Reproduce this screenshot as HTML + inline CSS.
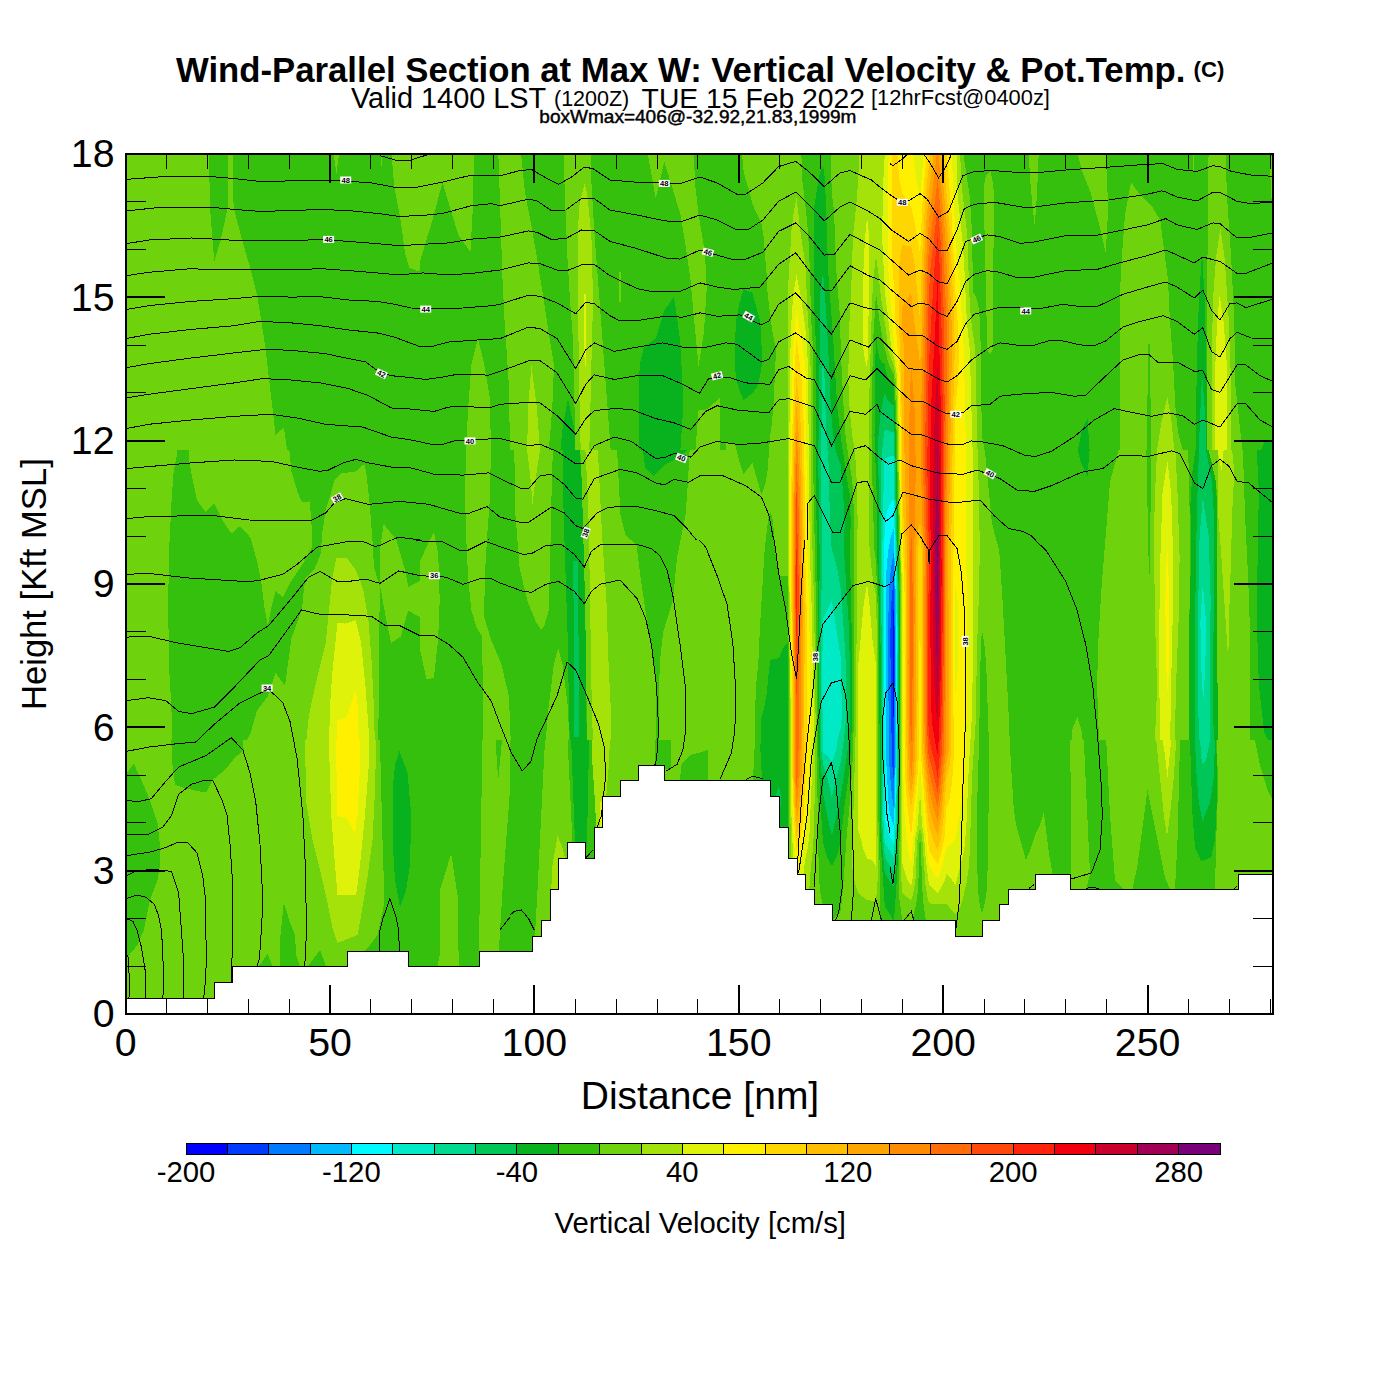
<!DOCTYPE html>
<html><head><meta charset="utf-8"><title>Wind-Parallel Section</title>
<style>
html,body{margin:0;padding:0;background:#fff;}
body{width:1400px;height:1400px;position:relative;overflow:hidden;font-family:"Liberation Sans",sans-serif;color:#000;}
.t{position:absolute;white-space:nowrap;line-height:1;margin:0;padding:0;}
.t span{display:inline-block}
</style></head><body>
<svg width="1400" height="1400" viewBox="0 0 1400 1400" style="position:absolute;left:0;top:0" shape-rendering="crispEdges">
<defs>
<clipPath id="plot"><rect x="126" y="154" width="1147" height="860"/></clipPath>
<clipPath id="c0"><rect x="120" y="150" width="300" height="300"/></clipPath>
<clipPath id="c1"><rect x="420" y="150" width="310" height="300"/></clipPath>
<clipPath id="c2"><rect x="120" y="450" width="300" height="300"/></clipPath>
<clipPath id="c3"><rect x="420" y="450" width="310" height="300"/></clipPath>
<clipPath id="c4"><rect x="120" y="740" width="350" height="290"/></clipPath>
<clipPath id="c5"><rect x="440" y="740" width="350" height="290"/></clipPath>
<clipPath id="c6"><rect x="1020" y="150" width="300" height="300"/></clipPath>
<clipPath id="c7"><rect x="1020" y="450" width="300" height="300"/></clipPath>
<clipPath id="c8"><rect x="940" y="740" width="350" height="290"/></clipPath>
</defs>
<g clip-path="url(#plot)">
<rect x="126" y="154" width="1147" height="860" fill="#6ed30c"/>
<g clip-path="url(#c0)">
<rect x="120" y="150" width="300" height="300" fill="#6ed30c"/>
<polygon fill="#36c00e" points="208.9,150 210,207.9 214.3,261.4 220.7,240 228.2,205.7 228.2,150"/>
<polygon fill="#36c00e" points="232.5,150 233.6,207.9 242.1,240 249.6,265.7 257.1,295.7 261.4,321.4 265.7,349.3 268.9,378.2 273.2,413.6 275.4,435 283.9,427.5 287.1,450 420,450 420,150"/>
<polygon fill="#6ed30c" points="333.2,150 339.6,150 336.4,173.6"/>
<polygon fill="#6ed30c" points="380.4,150 383.1,150 381.4,167.1"/>
<polygon fill="#6ed30c" points="391.1,150 394.3,186.4 400.7,220.7 405,252.9 409.3,267.9 417.9,271.1 420,270 420,150"/>
</g>
<g clip-path="url(#c1)">
<rect x="420" y="150" width="310" height="300" fill="#36c00e"/>
<polygon fill="#6ed30c" points="420,150 473.6,150 473.6,171.4 472.5,214.3 470.4,251.8 458.6,235.7 452.1,214.3 442.5,182.1 432.9,218.6 420,261.4"/>
<polygon fill="#6ed30c" points="498.2,150 520.7,150 525,192.9 531.4,225 536.8,257.1 542.1,289.3 548.6,332.1 553.9,364.3 552.9,396.4 550.7,428.6 548.6,450 510,450 508.9,385.7 506.8,353.6 504.6,321.4 502.5,278.6 500.4,214.3"/>
<polygon fill="#6ed30c" points="477.9,338.6 484.3,364.3 489.6,396.4 491.1,450 466.1,450 468.2,407.1 471.4,364.3"/>
<polygon fill="#6ed30c" points="563.6,150 590.4,150 591.4,182.1 594.6,235.7 597.9,278.6 601.1,321.4 604.3,364.3 607.5,407.1 610.7,450 575.4,450 573.2,342.9 570,300 567.4,257.1 565.7,214.3 564,171.4"/>
<polygon fill="#6ed30c" points="647.1,150 655.7,198.2 664.3,161.8 673.9,192.9 680.4,214.3 685.7,246.4 690.4,278.6 694.3,321.4 698.6,366.4 703.9,332.1 706.7,289.3 705,252.9 698.6,214.3 694.9,182.1 693.9,150"/>
<polygon fill="#6ed30c" points="695.4,450 698.6,410.4 707.1,409.3 720,397.5 720,450"/>
<polygon fill="#6ed30c" points="618.9,272.1 620.8,272.1 620.8,302.1 619.3,302.1"/>
<polygon fill="#a5e20a" points="584.6,183.2 587.1,192.9 591.4,235.7 592.5,278.6 592.5,321.4 591.4,364.3 590.4,407.1 589.3,450 580.7,450 579.6,407.1 579,364.3 578.1,321.4 577.5,278.6 577.5,235.7 579.6,203.6"/>
<polygon fill="#def20a" points="583.9,293.6 586.1,293.6 586.1,366.4 584.6,366.4"/>
<polygon fill="#a5e20a" points="531.4,365.4 536.8,407.1 540,450 527.1,450 528.2,407.1"/>
<polygon fill="#08b21e" points="673.9,296.8 676.1,310.7 680.4,342.9 682.5,385.7 682.5,417.9 680.4,450 638.6,450 639.6,364.3 643.9,347.1 655.7,338.6 664.3,310.7"/>
<polygon fill="#08b21e" points="567.9,398.6 574.3,428.6 575.4,450 560.4,450 562.5,428.6"/>
</g>
<g clip-path="url(#c2)">
<rect x="120" y="450" width="300" height="300" fill="#36c00e"/>
<polygon fill="#6ed30c" points="120,450 176.8,450 176.8,456 173.6,471.4 171.4,503.6 169.3,546.4 168.2,600 168.9,664.3 171.4,707.1 172.5,750 120,750"/>
<polygon fill="#6ed30c" points="188.6,450 289.3,450 291.4,471.4 297.9,492.9 302.1,502.5 309.6,501.4 311.4,520.7 312.2,546.4 304.3,561.4 291.4,580.7 282.9,596.8 275.4,591.4 271.1,608.6 267.9,625.7 264.6,608.6 261.4,582.9 257.1,561.4 250.7,537.9 240,526.1 231.4,533.6 222.9,520.7 214.3,503.6 205.7,512.1 197.1,500.4 191.8,475.7 188.6,456"/>
<polygon fill="#6ed30c" points="364.3,463.9 355.7,471.4 340.7,473.6 334.3,480 331.1,492.9 325.7,510 322.5,531.4 320.4,555 313.9,570 305.4,578.6 303.2,595.7 302.1,608.6 291.4,638.6 285,685.7 275.4,672.9 267.9,696.4 257.1,710.4 250.7,732.9 242.1,750 378.2,750 379.3,642.9 379.7,587.1 373.9,566.8 372.9,546.4 369.6,503.6 366.4,473.6"/>
<polygon fill="#6ed30c" points="383.6,523.9 396.4,540 405,570 408.2,587.1 420,580.7 420,617.1 408.2,610.7 400.7,636.4 391.1,642.9 385.7,617.1 380.4,587.1 380.4,546.4"/>
<polygon fill="#a5e20a" points="336.4,558.2 347.1,558.2 355.7,570 363.2,589.3 368.6,621.4 371.8,664.3 373.9,707.1 375,750 305.4,750 308.6,717.9 312.9,696.4 319.3,668.6 325.7,642.9 328.9,610.7 332.1,578.6"/>
<polygon fill="#def20a" points="337.5,622.5 345,623.6 355.7,620.4 361.1,642.9 365.4,685.7 368.6,728.6 368.6,750 328.9,750 330,707.1 332.1,675 335.4,642.9"/>
<polygon fill="#fff000" points="355.7,690 357.9,707.1 358.9,750 336.4,750 337.5,720 346.1,717.9"/>
</g>
<g clip-path="url(#c3)">
<rect x="420" y="450" width="310" height="300" fill="#36c00e"/>
<polygon fill="#6ed30c" points="420,561.4 428.6,542.1 433.9,532.5 438.2,552.9 439.7,600 438.2,638.6 433.9,678.2 426.4,678.9 420,649.3"/>
<polygon fill="#6ed30c" points="466.1,450 490.7,450 490.3,492.9 486.9,540 484.7,578.6 484.3,617.1 490.7,638.6 501.4,664.3 508.9,696.4 511.1,750 482.8,750 482.8,685.7 482.1,636.4 476.8,627.9 471.4,610.7 468.2,578.6 466.1,535.7 465,492.9"/>
<polygon fill="#6ed30c" points="558.2,648.2 562.5,664.3 567.9,707.1 569.6,750 544.9,750 548.6,707.1 553.9,664.3"/>
<polygon fill="#6ed30c" points="514.3,450 552.9,450 551.8,482.1 550.7,535.7 549.6,578.6 548.6,610.7 544.3,625.7 541.1,630 535.7,621.4 527.1,600 519.6,567.9 515.4,514.3"/>
<polygon fill="#a5e20a" points="527.1,450 540,450 535.7,477.9 532.5,503.6 530.4,477.9"/>
<polygon fill="#08b21e" points="562.5,450 579.6,450 581.8,482.1 583.3,535.7 585,600 586.1,664.3 586.7,750 570,750 568.9,707.1 567.9,642.9 565.7,578.6 563.6,514.3"/>
<polygon fill="#00c658" points="573.2,561.4 577.5,561.4 578.6,642.9 578.6,737.1 574.3,737.1 573.9,642.9"/>
<polygon fill="#6ed30c" points="580.3,450 730.7,450 730.7,750 587.1,750 586.1,664.3 585,600 583.3,535.7 581.8,482.1"/>
<polygon fill="#36c00e" points="617.1,450 618.2,471.4 620.4,514.3 625.7,535.7 636.4,544.3 640.7,578.6 647.1,621.4 652.5,653.6 655.7,675 655.7,750 658.9,750 659.6,664.3 663.2,632.1 672.9,600 677.1,557.1 685.7,514.3 687.9,482.1 689.6,450"/>
<polygon fill="#08b21e" points="642.9,450 645,467.1 653.6,475.7 664.3,465 677.1,458.6 687.9,450"/>
<polygon fill="#a5e20a" points="585.4,450 597.9,450 600,492.9 602.1,535.7 606.4,600 608.6,664.3 610.7,707.1 610.7,750 593.1,750 591.4,685.7 590.4,621.4 589.3,557.1 588.2,503.6"/>
</g>
<g clip-path="url(#c4)">
<rect x="120" y="740" width="350" height="290" fill="#6ed30c"/>
<polygon fill="#36c00e" points="127,772.5 133.8,763.8 142.5,782.5 150,800 157.5,822.5 160,845 160,865 157.5,880 150,900 143.8,930 137.5,945 131.2,952.5 127,957.5"/>
<polygon fill="#36c00e" points="171.2,740 172.5,765 175,785 182.5,787.5 197.5,791.2 206.2,792.5 212.5,780 225,770 235,757.5 243.8,750 242.5,740"/>
<polygon fill="#36c00e" points="283.8,902.5 290,922.5 295,935 296.2,955 300,966.5 280,966.5 280,940"/>
<polygon fill="#36c00e" points="267.5,953.8 272.5,966.5 258.8,966.5"/>
<polygon fill="#36c00e" points="320,950 326.2,966.5 307.5,966.5"/>
<polygon fill="#36c00e" points="380,740 381.2,790 382.5,840 384.5,902.5 377.5,935 370,945 363.8,951.5 408.2,951.5 408.2,966.5 470,966.5 470,740"/>
<polygon fill="#6ed30c" points="452,853.8 456.2,890 458.8,940 460,966.5 437.5,966.5 442.5,940 447.5,890"/>
<polygon fill="#08b21e" points="399.5,751.2 407.5,772.5 411.2,815 410,865 406.2,890 400,907.5 395,880 392.5,840 392.5,790 395,765"/>
<polygon fill="#a5e20a" points="305,740 306.2,802.5 312.5,840 320,870 327.5,902.5 332.5,927.5 337.5,942.5 345,940 357.5,935 361.2,915 367.5,877.5 372.5,840 375,790 376.2,740"/>
<polygon fill="#def20a" points="328.8,740 331.2,815 335,865 337.5,895 356.2,895 360,865 365,815 368.8,765 368.8,740"/>
<polygon fill="#fff000" points="336.2,740 337,816.2 346.2,817.5 355,833.8 357.5,815 360,765 360.5,740"/>
</g>
<g clip-path="url(#c5)">
<rect x="440" y="740" width="350" height="290" fill="#36c00e"/>
<polygon fill="#6ed30c" points="440,966.5 440,890 451.2,853.8 457.5,895 458.8,966.5"/>
<polygon fill="#6ed30c" points="482.5,740 495.5,740 498.2,780 502,740 510.5,740 510,790 506.2,840 502.5,890 498.8,951.5 478.8,951.5 480,890 481.2,815"/>
<polygon fill="#6ed30c" points="545,740 567.5,740 568.8,765 571.2,815 572.5,842.5 567.5,842.5 567.5,858.2 558.5,858.2 558.5,889.5 549.5,889.5 549.5,920.5 540.5,920.5 540.5,935.5 535,935.5 537.5,890 541.2,815"/>
<polygon fill="#a5e20a" points="557.5,836.2 562.5,847.5 565,858.2 558.5,858.2 558.5,889.5 551.2,889.5 552.5,865"/>
<polygon fill="#08b21e" points="571.2,740 589.2,740 588,790 587,845 584.5,858.2 584.5,842.5 575,842.5 573,790"/>
<polygon fill="#a5e20a" points="591.5,740 610,740 608.8,765 606.2,796.8 602.5,796.8 602.5,827.5 596.2,827.5 595,802.5 592.5,765"/>
<polygon fill="#def20a" points="600,802.5 602.5,800 602.5,827.5 600.5,827.5"/>
<polygon fill="#6ed30c" points="610,740 655,740 655,765.5 637.5,765.5 637.5,780.5 620,780.5 620,796.8 606.2,796.8 608.8,765"/>
<polygon fill="#6ed30c" points="671.2,740 762.5,740 762.5,780.5 664.2,780.5 664.2,768.8 671.2,768.8"/>
<polygon fill="#36c00e" points="680,780.5 681.2,765 690,755 700,752.5 708,750 708,780.5"/>
</g>
<g clip-path="url(#c6)">
<rect x="1020" y="150" width="300" height="300" fill="#36c00e"/>
<polygon fill="#6ed30c" points="1076.8,150 1106.8,150 1107.9,214.3 1105.7,252.9 1099.3,225 1090.7,192.9 1082.1,171.4"/>
<polygon fill="#6ed30c" points="1131,182.1 1140,195 1152.9,207.9 1160.4,220.7 1163.6,246.4 1167.9,278.6 1170,321.4 1173.2,364.3 1175.4,407.1 1178.1,432.9 1182.9,450 1119.6,450 1119.6,300 1121.8,257.1 1125,214.3"/>
<polygon fill="#36c00e" points="1148.1,343.9 1149.9,343.9 1151.1,450 1146.9,450"/>
<polygon fill="#a5e20a" points="1167.4,397.5 1171.1,417.9 1174.3,450 1157.1,450 1161.4,422.1"/>
<polygon fill="#6ed30c" points="1192.5,150 1194.6,150 1194,182.1"/>
<polygon fill="#6ed30c" points="1208.6,150 1225.7,150 1226.8,192.9 1231.1,257.1 1234.3,321.4 1235.4,385.7 1242.4,450 1206.4,450 1206.9,364.3 1207.5,257.1 1208.1,192.9"/>
<polygon fill="#a5e20a" points="1220.4,228.2 1224.6,257.1 1228.9,321.4 1231.1,385.7 1231.1,450 1211.8,450 1211.8,364.3 1212.9,300 1216.1,257.1"/>
<polygon fill="#def20a" points="1219.7,295.7 1223.6,321.4 1226.8,364.3 1226.8,450 1215,450 1215.4,364.3 1217.1,321.4"/>
<polygon fill="#08b21e" points="1202.1,252.9 1204.7,300 1206.4,364.3 1207.5,450 1195.7,450 1196.8,364.3 1198.9,300"/>
<polygon fill="#00c658" points="1202.1,375 1205.4,417.9 1206.4,450 1198.9,450 1200,417.9"/>
<polygon fill="#08b21e" points="1087.5,418.9 1089.6,450 1077.9,450 1082.1,428.6"/>
<polygon fill="#6ed30c" points="1269.6,156.4 1273.9,156.4 1273.9,225 1271.1,192.9"/>
<polygon fill="#08b21e" points="1261.1,450 1273.9,450 1273.9,440.4 1264.3,442.5"/>
</g>
<g clip-path="url(#c7)">
<rect x="1020" y="450" width="300" height="300" fill="#36c00e"/>
<polygon fill="#08b21e" points="1077.9,450 1089.6,450 1087.5,475.7 1081.1,462.9"/>
<polygon fill="#6ed30c" points="1118.6,450 1188.2,450 1189.3,492.9 1190.4,557.1 1189.3,621.4 1189.3,750 1099.3,750 1097.1,685.7 1098.2,642.9 1101.4,589.3 1105.7,535.7 1110,482.1"/>
<polygon fill="#36c00e" points="1146.4,450 1151.1,450 1150.3,535.7 1149.2,589.3 1148.1,535.7"/>
<polygon fill="#a5e20a" points="1157.1,450 1175.4,450 1177.5,492.9 1179.6,557.1 1178.6,621.4 1176,685.7 1174.7,750 1154.6,750 1157.1,685.7 1155,621.4 1153.9,535.7 1155,492.9"/>
<polygon fill="#def20a" points="1167.4,460.7 1171.1,492.9 1173.2,557.1 1172.6,621.4 1171.1,685.7 1170,750 1160.4,750 1159.3,685.7 1159.3,621.4 1160.4,557.1 1162.5,492.9"/>
<polygon fill="#fff000" points="1167.2,542.1 1169.4,600 1168.9,664.3 1167.9,696.4 1166.1,664.3 1165.3,600"/>
<polygon fill="#6ed30c" points="1207.5,450 1219.3,450 1218.2,514.3 1216.1,482.1"/>
<polygon fill="#08b21e" points="1195.3,450 1208.6,450 1216.1,482.1 1217.1,514.3 1216.7,578.6 1217.1,642.9 1218.2,750 1189.3,750 1189.3,621.4 1191,557.1 1190.4,503.6 1192.5,471.4"/>
<polygon fill="#00c658" points="1198.9,450 1206,450 1211.8,482.1 1213.9,514.3 1213.9,600 1212.9,685.7 1213.9,750 1194.6,750 1194.6,664.3 1195.7,578.6 1196.8,514.3 1197.9,482.1"/>
<polygon fill="#00da91" points="1202.8,497.1 1208.6,535.7 1210.7,600 1209.6,664.3 1209.6,750 1198.9,750 1197.9,664.3 1198.3,600 1199.6,535.7"/>
<polygon fill="#00eac8" points="1202.8,583.9 1206,621.4 1205.4,664.3 1203.2,702.9 1201.1,664.3 1200.4,621.4"/>
<polygon fill="#6ed30c" points="1218.2,450 1242.9,450 1245,514.3 1248.2,578.6 1250.4,642.9 1250.4,750 1218.2,750 1217.1,642.9 1217.1,514.3"/>
<polygon fill="#a5e20a" points="1218.2,450 1232.1,450 1234.3,471.4 1232.1,514.3 1231.1,557.1 1228.9,621.4 1228.3,662.1 1225.7,621.4 1221.4,557.1 1218.2,514.3"/>
<polygon fill="#def20a" points="1217.6,450 1223.6,450 1221.4,471.4"/>
<polygon fill="#08b21e" points="1256.8,450 1273.9,450 1273.9,750 1264.3,732.9 1258.9,685.7 1256.8,621.4 1257.9,535.7 1258.9,492.9"/>
<polygon fill="#6ed30c" points="1077.4,716.8 1082.1,732.9 1083.2,750 1071,750 1072.5,728.6"/>
</g>
<g clip-path="url(#c8)">
<rect x="940" y="740" width="350" height="290" fill="#6ed30c"/>
<polygon fill="#36c00e" points="1043.8,740 1070,740 1071.2,815 1070.5,873.8 1052.5,873.8 1048.8,852.5 1043.8,812.5 1035,840 1025,860 1015,815 1011.2,740"/>
<polygon fill="#36c00e" points="1083.8,740 1090,873.8 1086.2,889.2 1123.8,889.2 1115,880 1110,815 1106.2,740"/>
<polygon fill="#36c00e" points="1147.5,790 1157.5,840 1165,877.5 1170,889.2 1132.5,889.2 1137.5,865 1142.5,827.5"/>
<polygon fill="#a5e20a" points="1156.2,740 1176.2,740 1173.8,777.5 1170,815 1167,836.2 1163.8,815 1160,777.5"/>
<polygon fill="#def20a" points="1162.5,740 1171.2,740 1167.5,777.5 1165,755"/>
<polygon fill="#36c00e" points="1180,740 1178.8,790 1177.5,840 1175,889.2 1215,889.2 1216.2,840 1218,790 1217,740"/>
<polygon fill="#36c00e" points="1255,740 1273.8,740 1273.8,802.5 1267.5,790 1260,765"/>
<polygon fill="#08b21e" points="1190,740 1216.2,740 1217.5,790 1215,840 1211.2,857.5 1201.2,861.2 1195,847.5 1192.5,815 1191.2,777.5"/>
<polygon fill="#00c658" points="1195,740 1215,740 1213.8,777.5 1210,802.5 1202.5,821.2 1198.8,802.5 1196.2,770"/>
<polygon fill="#00da91" points="1200,740 1210,740 1206.2,760 1202,765"/>
</g>
<clipPath id="s0"><rect x="726" y="154" width="318" height="860"/></clipPath>
<g clip-path="url(#s0)">
<rect x="726" y="154" width="318" height="860" fill="#6ed30c"/>
<path fill="#a5e20a" d="M960.2,154 961.3,182 967.4,236 969.2,292 970.6,314 972.1,328 975.4,350 977.1,436 978.9,492 979.8,550 979,592 977,648 975.7,722 972,778 969.8,852 968.6,868 966.7,882 963,898 960.5,906 958.6,910 955.4,914.2 946.5,904.2 937.7,904.5 928.9,903.1 927.3,896 925.4,884 922.1,836 920.1,828.1 917.8,836 916.8,850 915.6,878 914.3,888 912.6,896 911.2,900 905.3,896 902.4,892.8 901.5,882 900.8,864 901.2,592 897.1,408 895.8,380 895.1,374 893.6,365 890.7,358 888.3,350 886.2,332 880.8,296 878.3,272 876,256.3 873.8,274 872.2,298 868.9,408 868.6,520 869.6,550 872.2,574 876,596.4 876.7,628 877.1,664 877.3,822 878,868 877.4,884 876,901.4 867.1,900 861.7,896 858.3,892.8 856.3,888 854.6,882 853.1,874 852,864 855.8,726 857.6,520 857.1,492 856.1,468 854.7,450 852.3,436 849.5,407.1 848.2,378 849.5,321.4 851.1,292 853,236 856.2,206 858.2,180 859.3,154ZM796.5,197.9 800.7,234 805.4,264.4 807.9,320 810.2,350 810.8,380 810.9,466 812.5,550 814.2,608 815.6,720 814.9,790 813.6,836 812.6,852 810.3,874 805.4,950 805.4,1012 805.4,1014 791.5,1014 791,860 789.9,780 789.6,664 788,550 787.7,294 791.5,230 793.7,212Z"/>
<path fill="#def20a" d="M884.8,154 956.5,154 957,178 958.1,200 962.6,242 964.2,264.3 966.9,322 969.8,350 973,464 973.5,606 973,664 971.5,722 968.7,770 966.5,822 965.1,842 964.2,850 955.4,885.6 952,880 946.5,874.2 944.8,880 942.3,886 937.7,892.8 932.4,888 928.9,883.9 925.7,858 924,836 922.1,826 920.1,793 917.4,828 915.6,836 912.7,878 911.2,885.7 908.6,882 906.7,878 902.4,864.1 902,808 902,592 900.2,520 898.3,408 897.2,380 896.4,372 894.1,358 891.5,350 887.5,312 884.8,292 882.1,236 883.2,182ZM867.1,217.1 869.1,236 869.4,256 868,350 867.1,368.8 865,360 863.5,350 862.7,320 863.6,264 865.2,236ZM796.5,275.4 800.8,296 805.4,328.6 807.2,350 807.9,366 808.3,380 808.7,464 809.9,550 811.6,606 814.2,722 809.4,836 807.7,848 805.1,860 803.4,874 801,950 801,1014 794,1014 794,950 793.3,860 791.7,826 790.8,780 790.4,666 789,550 789.3,438 790.5,348 791.4,322 792.7,302 794.3,288ZM867.1,582.9 869.8,608 872.5,640 875.9,664 876.1,850 876,866 876,866.4 875.6,866 873.7,862 871.2,860 867.1,858.5 863.5,850 861.2,840 858.3,830 857.7,814 857.6,750 858.3,664.5 863.5,606Z"/>
<path fill="#fff000" d="M888.6,154 913.8,154 916,178 920.1,199 923.6,154 951.7,154 955.4,235.7 959.9,284 963.9,350 966.2,464 966.2,550 966.9,608 966.6,722 964.2,792.6 961.8,802 955.4,838.4 953.4,842 951.7,844 946.5,847.6 941.9,868 939.9,874 937.7,878.6 932.9,872 928.9,864.4 926.9,850 926.1,838 923.9,820 920.1,766.1 914.7,828 913.4,836 911.2,864.3 909.1,856 907.1,844 904.6,816 903.4,778 903.1,592 901,520 899.2,402 898.2,374 896.7,360 894.6,350 889.6,292 888.2,266 887.7,236ZM955.4,586.4 954.9,608 954.9,664 955.4,692.9 958.1,664 958.3,608 957.1,596ZM796.5,950 795.5,860 793,826 791.7,780 791.5,692 789.9,550 790.4,466 791.7,392 793.7,340 795.8,316 796.5,310 796.9,312 803.3,350 805.4,369 805.8,378 807.3,550 809.2,608 810.7,722 809.2,768 805.5,834 803.6,844 799.7,858 799,866Z"/>
<path fill="#ffd700" d="M892.5,154 897.4,154 899.1,178 900.6,186 902.4,192.9 911.2,206.9 915,224 920.1,254.8 922.3,206 924.5,178 927.1,154 946.5,154 951.6,214 955.4,292.9 957.7,322 959.2,350 957.7,384 955.3,408 952.8,608 952.8,666 954,750 953.2,768 951.8,784 949.7,798 946.5,807.5 944.7,836 941.9,850 938.5,862 937.7,864.3 928.9,850 927.9,836 925,808 920.6,750 920.7,690 920.1,550 919.2,692 919.4,750 917.1,780 913.8,808 911.2,835.7 909.2,822 906.8,800 905.3,780 904.6,722 904.5,592 903.3,550 901.9,522 900,378 895.5,322 894.5,294 892.3,264 891.9,234ZM796.5,850 794,820 792.5,778 792.3,692 790.9,550 791.2,492 792.5,424 795.2,360 796.1,346 796.5,340.8 796.8,342 798.1,350 801.6,380 803.6,422 804.5,476 805,550 806.6,608 807.1,722 806.9,750 803.5,816 800.9,836Z"/>
<path fill="#ffbe00" d="M943.9,154 945.2,178 950.3,236 954,320 954.8,350 953.2,406 951.6,522 950.7,550 950.6,664 951.3,750 949.5,766 946.5,778.8 943.7,816 942.1,830 940.8,838 937.7,850 933.9,842 928.9,826.2 926.4,802 922.1,750 921.6,550 920.1,535.7 919.3,540 918.1,550 918.1,572 917.3,750 915.2,780 911.2,807.5 909.1,796 907.1,778 906,722 905.8,584 905.1,548 902.4,496 901.2,370 898.7,322 899.2,264 900.5,254 902.4,245.2 911.2,246.4 914.6,264 920.1,321.1 921.7,264 924.4,214 927.3,180 930.5,154ZM796.5,835.7 794.5,808 793.4,778 793.2,692 791.8,550 792.2,494 793.2,452 794.7,410 796.5,378.4 799.7,406 801.8,446 803,492 804.6,608 804.4,750 803.4,778 801.1,812 798.9,826Z"/>
<path fill="#ffa500" d="M941.2,154 942.7,178 947.8,236 951.6,322 951.9,350 949.1,520 947.9,550 948.6,608 948.6,750 946.1,766 941.2,816 937.7,835.7 932.8,822 928.9,807.1 923.6,750 923.2,722 923.1,550 920.1,520.5 917.2,536 916.1,550 916.1,556 916.1,664 915.3,750 913.5,778 911.2,792.9 909,778 907.5,720 906.9,550 904.6,464 904.1,406 904.3,350 902.4,334.1 901.8,322 902.4,307.1 906.3,300 911.2,292.9 914.7,326 918.5,350 920.1,366.3 922,322 923.8,264 926.5,220 928.9,192.9 933.6,154ZM796.5,821.4 795.4,806 794.3,778 792.8,550 793.7,478 796.5,407.1 799.1,438 801,480 803.2,608 802.4,750 801.5,778 800.3,794 798.9,808Z"/>
<path fill="#ff8c00" d="M937.7,821.4 933,806 928.9,788.1 925.1,750 924.4,720 924.3,608 924.7,550 922,520 921.1,464 921.2,406 922.7,350 925.8,264 928.9,221.4 936.8,154 937.7,154 938.5,154 940.2,178 945.3,236 949.1,322 948.7,408 946,550 946.5,608 946,750 941.1,798ZM911.2,364.3 914.6,408 915.7,464 915.2,520 914.1,550 914.6,608 914,722 913.3,750 911.2,781 909.9,758 909,726 908.5,664 909.2,442 909.6,406ZM796.5,807 795.2,778 794.9,694 793.6,578 794.4,494 796.5,435.7 798.4,462 799.8,492 801.7,608 801.2,664 800.5,694 800.5,750 799.4,780Z"/>
<path fill="#ff6c08" d="M937.7,178.5 942.8,236 946.5,320 946.5,406 944.8,550 945.3,608 944.1,750 939.8,792 937.7,807.1 937.4,806 934.1,794 928.9,771.4 926.6,750 925.7,720 925.6,608 926.2,550 924,520 923.2,464 923.4,406 927.9,264 928.9,250ZM796.5,464.3 798.1,492 798.6,510 800.2,606 799.5,664 798.5,694 798.5,750 797.5,778 796.5,788.1 795.7,750 795.7,694 794.5,580 795.2,508ZM911.2,750 910.4,722 909.9,664 909.9,606 910.5,550 911.2,531 912,550 912.9,608 912.3,720Z"/>
<path fill="#ff480c" d="M937.7,207.1 940.3,236 941.6,258 944,320 944.6,408 943.7,550 944,608 943.2,704 942.1,750 939.3,780 937.7,792.9 937.5,792 931.5,766 928.9,757.1 928.1,750 927.2,728 926.9,608 927.7,550 925.9,520 925.3,464 925.6,406 928.9,292.9 930.8,264ZM796.5,694 795.9,664 795.3,580 796.5,493.1 798.6,578 798.7,606 797.9,664Z"/>
<path fill="#ff220c" d="M937.7,235.8 939.6,264 941.4,320 942.7,406 942.8,606 941.9,692 940.8,732 940.2,750 937.7,778.3 937.4,776 935.4,764 931.4,750 928.9,735.7 928.3,722 928.2,608 929.4,550 927.9,520 927.4,464 927.8,408 928.9,366.3 931.1,322 934.7,264ZM796.5,550 797.2,578 797.3,606 796.5,635.9 796.1,580Z"/>
<path fill="#f0000e" d="M937.7,278.6 940.8,408 941.6,578 940.4,692 938.8,738 937.7,754.8 936.5,750 931.9,722 930.9,698 930.2,608 931.3,550 930.2,522 930,464 931.1,406Z"/>
<path fill="#c8002d" d="M937.7,364.3 939.4,436 940.4,578 939.5,666 937.7,721.5 935.9,708 934.6,692 933.6,664 932.7,606 933.3,550 932.8,522 934,436 935.2,408Z"/>
<path fill="#a00055" d="M937.7,681.4 936.8,664 935.2,608 935,578 935.4,524 936.7,492 937.7,435.9 939.2,578Z"/>
<path fill="#780078" d="M937.7,528.7 938.1,578 937.7,606.9 937.1,578 937.1,550Z"/>
<path fill="#36c00e" d="M726,154 742.1,154 743.6,170.7 745.3,178 749.7,192 752.4,204 761.3,223.1 763.5,236 766.6,274 767.5,292 770.1,315.7 772.9,334 776,350 773.6,404 772,422 770.1,435.7 767.7,470 765.7,482 762.4,492 761.3,494.3 759.5,488 752.4,462.9 743.6,474.2 738.9,460 735,444 726,443.4ZM831.8,920.5 828.6,918 826.9,916 824.2,910 821.2,898 820.1,892 818.8,874 816.7,750 817,720 816,606 813.1,464 813.1,350 811.2,320 809.6,264 808.4,238 806.8,218 802.1,178 801.4,154 823,154 830.7,154 831.8,192.9 833.7,208 835.1,236 835.8,264 840.2,320 840.7,350 843.5,406 845.6,436 849.5,464 851.5,476 852.9,488 854.2,522 853.5,550 854,608 853.9,720 852.4,766 850.3,798 846.7,836 843.2,886 841.1,908 840.7,911.1 840.1,912 836.7,916ZM1025.9,860 1017.1,828.6 1015.3,820 1013.7,808 1010.1,750 1008.3,707.1 1002.9,606 999.9,560 999.1,550 995.1,536 991.8,522 985.4,456 984,446 981.8,435.3 980.7,346 979.6,318 978.7,308 977.7,302 975.5,296 973,292.2 972.1,236 971,214 969.4,194 964.2,159.7 964,154 1028.6,154 1030.5,184 1032.9,210 1034.5,224 1034.8,225.5 1034.9,224 1037,194 1038.7,154 1043.6,154 1043.6,813.1 1040.3,824 1034.7,836 1030.3,850ZM990.7,354 992.6,350 994,194 992.7,182 990.7,171.5 989.5,172 987.1,174 985.3,178 984.3,184 983.7,194 987.3,350 988.5,352ZM876,292.9 879.4,320 882.9,340 887.6,360 890.3,368 893.6,374 894.4,380 896,408 900.4,594 900.4,764 899,886 899.5,900 902.4,921.2 911.2,950 912.6,920 916.5,902 917.7,892 918.5,878 919,850 920.1,835.9 921.1,850 922,884 923.2,902 926,922 926.7,950 926.7,1014 879.3,1014 879.3,950 880.4,892 878.5,822 878.3,664 877.7,608 876,561.8 874.3,550 871.9,464 871.5,436 872.2,378 873.4,336ZM770.1,511.5 771.8,516 773.1,522 775,550 776.8,564 778.9,575.6 787.7,575.8 788.8,664 789.1,808 789,1014 770.1,1014 752.4,1014 752.9,780 754.5,750 755.1,708 756.4,682 758.3,664 759.9,628 764.6,550 768.3,518ZM981.8,628.7 984.3,644 986.2,664 989.1,750 988.3,836 987.4,876 986.5,892 985.8,898 984.2,906 981.8,913.1 979.7,904 978.1,892 977.2,864 977,808 979.2,738 980.4,664Z"/>
<path fill="#08b21e" d="M831.8,865.8 829.4,862 826.7,856 824.9,850 823,841.5 821.2,816 818.2,750 817.7,592 815.6,464 816.4,350 814.7,322 813.9,294 814,226 814.4,206 818.7,178 821,170 823.1,166 825,180 828.2,272 833.3,340 837.2,406 840.7,436 847.1,480 849.5,493.3 850.8,522 849.7,550 851.3,606 852,664 851.9,722 850.9,750 849.5,769.5 844.5,806 840.7,841.4 838.7,850 836.8,856 834.1,862ZM743.6,288.7 752.4,292.9 760.3,322 761.8,350 761.6,366 759.6,378 758.1,384 756.4,388 752.4,393.2 743.6,400 739.4,390 735.7,378 734.8,350 736,320 739.8,302ZM893.6,920.7 891,916 884.8,906.9 880.1,836 878.9,608 877.1,550 876.6,492 874.5,436 874.9,378 876,335.8 877.9,352 879.4,358 881.8,362 884.8,364.5 886.1,372 887.4,376 893.6,387.5 894.9,408 896.3,454 899.6,594 899.6,764 898.2,852 896.9,878 894.8,910ZM762.5,1014 762.6,782 761.3,768.2 760.4,750 760.9,722 761.3,718.1 764.1,708 766.6,694 770.1,659.9 779.1,658 782.1,650 784.7,646 787.7,642.7 788,808 787.7,827.5 785.7,842 784.3,860 784.3,1014Z"/>
<path fill="#00c658" d="M823,272.5 824.8,292 826.7,322 829.7,378 830.8,408 831.8,421.4 833.3,436 835.3,448 837.4,456 840.7,464.6 843.2,494 844.7,522 843.9,550 848.5,620 849.8,660 849.9,722 848.7,740 847.7,750 840.7,796.4 832.8,832 831.8,835.6 831.4,834 826.9,814 823,793 819.7,750 819.3,664 819.6,550 818.3,464 819.1,378 819.9,350 819.9,308 820.4,292ZM893.6,885.8 890.2,882 884.8,873.2 882.1,846 881,822 880.7,664 880.2,608 878.8,550 878.4,448 878.5,436 880.1,418 883,400 884.8,393.2 887.7,400 889.2,402 893.6,405.4 895.7,464 896.7,520 898.8,592 899.1,666 898.3,806 896.7,854 895.2,874ZM778.9,785.6 781.6,800 778.9,814.4 776.7,808 775.1,800 776.8,792Z"/>
<path fill="#00da91" d="M823,357.1 824.5,378 826.3,434 828.6,464 829.8,514 831.3,544 831.8,550 835.1,560 837.5,570 840.7,589.6 844.2,636 845.8,664 845.9,722 843.3,744 840.7,761.8 832.1,796 831.8,797.2 827,776 823,764.5 821.2,750 820.8,664 821.9,550 821.1,464 822.1,378ZM893.6,871.4 884.8,857.1 882.8,836 882.3,822 881.9,656 880.6,550 881.3,464 882.7,444 884.8,429.4 893.6,432.9 894.8,464 895.9,520 898,592 898.4,664 897.7,782 896.4,836 895.1,856Z"/>
<path fill="#00eac8" d="M893.6,857.1 884.8,842.9 884.7,842 883.5,820 883,750 883.1,664 882.3,550 883.9,472 884.8,458.6 891.8,456 893.6,455.5 893.9,464 894.3,494 897.2,592 897.6,636 896.9,780 895.4,834ZM831.8,600 840.7,657.1 841.5,694 841.5,720 840.7,728.2 837.9,738 836.1,750 831.9,762 827.4,756 823,752.4 822.7,750 822.3,664 823,618.6 827.6,610Z"/>
<path fill="#00faff" d="M893.6,842.9 889.4,836 884.8,821 883.8,578 884.8,521.4 886.4,514 888.3,508 890.2,504 892.9,500 893.6,499.2 895.6,562 896.9,636 896.4,764 895.4,808Z"/>
<path fill="#00baff" d="M893.6,825.5 890.5,816 888.6,806 886.5,766 885.9,580 886.9,564 888.3,550 890.6,538 893.6,528.6 895.6,592 896.2,636 895.6,764 894.6,806Z"/>
<path fill="#007aff" d="M893.6,552.6 895.1,608 895.4,664 894.8,764 893.6,806.9 891.1,788 889.3,764 888.6,720 888.2,636 888.6,606 889.7,580 891.3,566Z"/>
<path fill="#003cff" d="M893.6,578.6 894.7,636 894.4,722 893.6,778.6 892.2,764 892.1,750 891.1,722 890.3,636 891.1,606Z"/>
<path fill="#0000ff" d="M893.6,721 892.5,664 892.5,636 893.6,607.5 894,636Z"/>
</g>
</g>
<g clip-path="url(#plot)" fill="none" stroke="#000" stroke-width="1" shape-rendering="crispEdges">
<clipPath id="lc0"><rect x="120" y="150" width="390" height="390"/></clipPath>
<g clip-path="url(#lc0)">
<polyline points="380,155.7 398.6,160.9 411.4,160 428.6,154.3"/>
<polyline points="126.3,179.4 162.9,176.6 208.6,176.3 234.3,178.6 260,181.4 291.4,180.9 330,180 371.4,182.9 398.6,188 417.1,187.1 442.9,182 471.4,175.1 485.7,175.7 500,175.7 520,170.6 531.4,169.4"/>
<polyline points="126.3,210.9 162.9,207.1 208.6,207.1 234.3,209.4 260,211.4 291.4,210.6 320,209.4 348.6,210.6 377.1,213.4 398.6,216.3 420,215.7 442.9,213.4 471.4,205.7 491.4,203.7 500,205.7 528.6,199.1"/>
<polyline points="126.3,243.7 148.6,240 191.4,238 214.3,239.1 242.9,240.9 291.4,240.9 320,239.4 348.6,241.4 377.1,243.7 400,245.7 422.9,244.3 448.6,242.9 471.4,239.1 500,237.1 528.6,230.9"/>
<polyline points="126.3,275.7 148.6,272.3 191.4,268.6 214.3,270 248.6,269.4 291.4,270 320,268.6 348.6,270.6 377.1,272.9 398.6,274.9 422.9,272.9 448.6,274.9 471.4,273.4 500,270 528.6,262.9"/>
<polyline points="126.3,309.4 148.6,305.7 191.4,301.4 234.3,298.6 260,296.3 291.4,297.1 320,296.6 348.6,300 377.1,301.4 394.3,304.3 411.4,308 437.1,308.6 462.9,308 491.4,305.7 500,304.3 528.6,295.1"/>
<polyline points="126.3,338.6 148.6,334.3 191.4,329.4 234.3,325.7 260,321.4 291.4,322.9 320,325.7 348.6,330 377.1,332.9 394.3,337.1 420,346.6 431.4,346.6 448.6,342 477.1,340 500,338.6 528.6,327.1"/>
<polyline points="126.3,367.7 148.6,363.7 191.4,358 234.3,352.9 268.6,349.1 297.1,350.9 325.7,353.7 348.6,358.6 365.7,362 378.6,371.4 391.4,375.7 405.7,377.1 425.7,379.4 442.9,377.1 457.1,374.3 488.6,375.1 500,371.4 528.6,360.9"/>
<polyline points="126.3,398 148.6,394.3 191.4,388.6 234.3,382.9 262.9,378.6 291.4,380 320,382.9 348.6,388.6 368.6,395.7 391.4,408 405.7,408.6 434.3,411.4 448.6,407.1 462.9,406.3 488.6,408 500,404.3 528.6,402.3"/>
<polyline points="126.3,428.6 148.6,424.3 191.4,420 234.3,416.3 271.4,414.3 297.1,418 325.7,424.3 362.9,427.1 391.4,437.1 411.4,440 431.4,444.3 442.9,444.3 454.3,440.9 485.7,439.1 500,438.6 528.6,445.7"/>
<polyline points="126.3,468.6 148.6,466.6 191.4,462.9 234.3,460 271.4,461.4 297.1,467.1 320,471.4 328.6,470 342.9,462.9 355.7,459.4 368.6,462.9 391.4,467.1 411.4,468 434.3,474.3 462.9,475.1 488.6,472.9 500,478.6 520,488 528.6,488.6"/>
<polyline points="126.3,518.6 148.6,516.6 191.4,515.7 214.3,515.7 248.6,520 291.4,520.6 310,520.9 325.7,512.9 334.3,502.9 345.7,498.6 368.6,504.3 400,501.4 428.6,504.3 460,513.4 468.6,513.4 487.1,506.6 500,517.1 520,522.3 528.6,522.3"/>
<polyline points="314.3,548.6 325.7,544.3 348.6,542.9 368.6,546.6 377.1,546.6 398.6,537.1 420,540 431.4,547.1 442.9,550"/>
<polyline points="462.9,550 471.4,548.6 488.6,540 502.9,544.3 520,550"/>
</g>
<clipPath id="lc1"><rect x="510" y="150" width="380" height="390"/></clipPath>
<g clip-path="url(#lc1)">
<polyline points="500,175.7 520,170.6 531.4,169.4 547.1,178.6 558.6,184.3 571.4,177.1 584.3,167.1 592.9,168.6 610,180 637.1,182.3 680,183.7 700,177.1 717.1,182.9 737.1,194.3 745.7,194.3 762.9,182.9 778.6,166.6 795.7,161.4 808.6,171.4 824.3,186.6 840,172.9 850,170.6 871.4,180 880,187.1 891.4,195.7 900,201.4 910,200"/>
<polyline points="500,205.7 528.6,199.1 537.1,200.9 551.4,210.6 565.7,210 581.4,198.6 594.3,198.6 610,210 637.1,215.1 665.7,220.9 680,222 700,215.1 717.1,220 737.1,230 748.6,229.4 762.9,220 778.6,201.4 795.7,192 808.6,204.3 824.3,220.9 840,207.1 850,202 868.6,211.4 880,218.6 891.4,230 908.6,241.4"/>
<polyline points="500,237.1 528.6,230.9 537.1,232.3 551.4,239.4 565.7,238.6 581.4,230 594.3,230.6 610,241.4 637.1,248.6 665.7,258 680,259.1 700,250 717.1,255.1 734.3,260 745.7,259.1 762.9,252.3 778.6,231.4 795.7,222.9 808.6,235.7 824.3,255.1 834.3,254.3 850,234.3 868.6,244.3 880,250 891.4,260 908.6,275.1"/>
<polyline points="500,270 528.6,262.9 540,263.7 557.1,270 568.6,270 582.9,264.3 594.3,264.3 610,275.7 637.1,288.6 651.4,291.4 680,291.4 700,282.9 717.1,287.1 734.3,289.4 760,287.1 778.6,264.3 795.7,252.9 808.6,270 824.3,290 831.4,290.9 850,265.7 868.6,275.7 880,280 891.4,290 911.4,306.6"/>
<polyline points="500,304.3 528.6,295.1 540,296.3 557.1,302.9 575.7,313.7 585.7,302.3 594.3,303.7 610,315.7 620,320.9 637.1,320.6 662.9,316.6 682.9,317.1 700,312.9 717.1,316.3 740,314.9 761.4,324.9 768.6,321.4 778.6,304.3 795.7,292.9 808.6,307.1 831.4,334.3 850,302.9 868.6,308.6 880,310 891.4,320 908.6,335.1"/>
<polyline points="500,338.6 528.6,327.1 540,328.6 557.1,338.6 575.7,368.6 585.7,350 594.3,342.9 614.3,351.4 637.1,347.1 662.9,342.9 682.9,347.1 702.9,348 725.7,342.9 737.1,344.3 761.4,362 768.6,359.4 778.6,342 795.7,332.9 808.6,342 831.4,377.7 850,340 868.6,347.1 877.1,337.1 880,338.6 891.4,350 908.6,368.6"/>
<polyline points="500,371.4 528.6,360.9 540,360.6 557.1,372.9 575.7,403.7 585.7,384.3 594.3,374.9 614.3,379.4 637.1,375.7 662.9,375.7 682.9,384.3 699.4,393.4 708.6,378.6 728.6,377.1 745.7,382.9 770,384.3 778.6,370 788.6,366.3 795.7,371.4 807.1,378.6 814.3,379.4 831.4,412.9 850,375.7 865.7,380 877.1,368.6 880,371.4 891.4,382.9 911.4,401.4"/>
<polyline points="500,404.3 528.6,402.3 540,402.9 557.1,415.7 575.7,434.3 585.7,418.6 594.3,410.6 614.3,408.6 631.4,409.4 655.7,418.6 674.3,422.9 690.9,429.4 705.7,411.4 717.1,405.7 737.1,410 768.6,412.9 778.6,400 788.6,398.6 814.3,407.1 831.4,445.7 850,411.4 865.7,414.3 877.1,404.3 880,411.4 891.4,420 911.4,434.3"/>
<polyline points="500,438.6 528.6,445.7 540,444.3 557.1,451.4 575.7,463.7 582.9,463.7 594.3,445.7 614.3,437.1 631.4,441.4 655.7,458.6 665.7,457.1 674.3,453.4 690.9,457.1 700,447.1 717.1,441.4 737.1,444.3 757.1,443.7 788.6,438.6 814.3,445.7 831.4,482.3 840,482.3 854.3,448.6 865.7,445.7 880,458 888.6,464.3 900,460 911.4,465.7"/>
<polyline points="500,478.6 520,488 528.6,488.6 540,475.7 551.4,474.3 564.3,484.3 575.7,498 582.9,499.1 594.3,478.6 620,469.4 637.1,472.9 655.7,482.9 664.3,484.9 674.3,479.4 688.6,482.3 700,475.7 722.9,475.7 745.7,485.7 761.4,497.1 768.6,514.3 775.7,550"/>
<polyline points="807.1,550 808,502.9 814.3,495.7 832.9,532.9 840,532.9 857.1,482.9 867.1,480.9 880,511.4 885.7,521.4 892.9,515.7 902.9,492.3 911.4,494.3"/>
<polyline points="500,517.1 520,522.3 528.6,522.3 551.4,507.1 564.3,512.9 575.7,525.7 582.9,528.6 597.1,512.9 608.6,507.1 637.1,506.6 655.7,510.6 674.3,515.7 685.7,527.1 700,544.3 705.7,550"/>
<polyline points="542.9,550 551.4,545.7 564.3,548.6 567.1,550"/>
<polyline points="594.3,550 602.9,544.9 637.1,546.6 654.3,550"/>
</g>
<clipPath id="lc2"><rect x="890" y="150" width="390" height="390"/></clipPath>
<g clip-path="url(#lc2)">
<polyline points="880,157.1 892.9,165.7 902.9,158.6 908.6,152.9"/>
<polyline points="922.9,152.9 930,162.9 938.6,178 945.7,167.1 951.4,154.3"/>
<polyline points="880,187.1 891.4,195.7 900,201.4 910,200 920,193.7 927.1,199.1 938.6,217.1 948.6,211.4 962.9,175.7 974.3,171.4 994.3,170.6 1022.9,172.9 1034.3,172.9 1065.7,170 1108.6,167.1 1147.1,164.3 1162.9,163.7 1177.1,169.4 1197.1,171.4 1212.9,165.7 1220,166.6 1231.4,171.4 1251.4,175.1 1272.9,176.3"/>
<polyline points="880,218.6 891.4,230 908.6,241.4 920,233.4 928.6,238.6 938.6,250.6 947.1,250.6 957.1,230 964.3,208.6 974.3,204.3 994.3,202.3 1022.9,207.1 1034.3,207.1 1065.7,202.9 1108.6,200 1147.1,194.3 1161.4,190.9 1165.7,192 1177.1,197.1 1197.1,200.9 1212.9,192.3 1220,192.3 1237.1,201.4 1251.4,203.7 1272.9,202"/>
<polyline points="880,250 891.4,260 908.6,275.1 920,270 928.6,273.4 938.6,282 947.1,283.7 957.1,264.3 965.7,241.4 987.1,234.9 1000,236.6 1020,243.4 1034.3,242 1065.7,235.7 1097.1,235.1 1122.9,230 1147.1,224.9 1165.7,218.6 1177.1,224.9 1197.1,229.4 1212.9,222.9 1220,223.7 1237.1,238 1251.4,237.1 1272.9,232.9"/>
<polyline points="880,280 891.4,290 911.4,306.6 920,302.9 928.6,304.9 938.6,312.9 947.1,316.3 957.1,301.4 965.7,281.4 974.3,274.3 987.1,270.6 1000,272.3 1017.1,277.7 1034.3,277.1 1065.7,270.6 1097.1,269.4 1122.9,262 1147.1,255.7 1165.7,250 1177.1,255.1 1194.3,262.9 1202.9,257.1 1220,261.4 1237.1,273.4 1245.7,273.4 1272.9,262.9"/>
<polyline points="880,310 891.4,320 908.6,335.1 922.9,335.7 938.6,346.6 947.1,349.4 957.1,341.4 965.7,323.7 974.3,314.3 1000,307.1 1040,308.6 1062.9,304.3 1080,306.6 1097.1,306.6 1122.9,294.3 1147.1,287.1 1165.7,282 1177.1,287.1 1194.3,298 1202.9,290 1211.4,310 1220,320 1230,303.4 1237.1,302.9 1245.7,307.7 1272.9,299.1"/>
<polyline points="880,338.6 891.4,350 908.6,368.6 922.9,370 938.6,379.1 947.1,382 957.1,375.7 971.4,360 990,347.1 1000,342.9 1017.1,345.1 1034.3,345.1 1048.6,340.9 1062.9,340.9 1080,344.9 1094.3,345.7 1105.7,340.9 1122.9,327.1 1137.1,322.3 1162.9,315.7 1177.1,321.4 1194.3,334.3 1202.9,327.7 1211.4,351.4 1220,357.1 1230,338.6 1237.1,332.3 1251.4,338 1272.9,338.6"/>
<polyline points="880,371.4 891.4,382.9 911.4,401.4 922.9,401.4 938.6,410 945.7,413.4 962.9,412.9 971.4,405.7 990,404.3 1000,396.3 1017.1,394.3 1051.4,392.3 1074.3,396.3 1085.7,395.1 1102.9,378.6 1122.9,360 1140,354.3 1148.6,354.3 1158.6,362.9 1177.1,362 1194.3,371.4 1202.9,370.6 1211.4,389.4 1220,392.3 1237.1,364.9 1245.7,364.9 1260,375.7 1272.9,381.4"/>
<polyline points="880,411.4 891.4,420 911.4,434.3 922.9,435.1 938.6,441.4 948.6,444.3 962.9,444.3 971.4,440.9 982.9,442 1002.9,445.7 1025.7,455.7 1035.7,456.3 1051.4,451.4 1074.3,436.6 1094.3,420 1114.3,408.6 1131.4,412.3 1151.4,416.3 1168.6,412.9 1182.9,415.7 1194.3,424.3 1202.9,420 1220,427.1 1237.1,403.7 1245.7,403.7 1260,420 1272.9,427.1"/>
<polyline points="880,458 888.6,464.3 900,460 911.4,465.7 937.1,472.9 962.9,474.3 977.1,470 1000,478.6 1017.1,490 1034.3,491.4 1051.4,485.7 1080,472.9 1085.7,471.4 1102.9,468.6 1120,455.1 1148.6,456.3 1171.4,450.9 1180,453.7 1194.3,482.9 1202.9,488.6 1211.4,465.7 1220,459.4 1228.6,465.7 1237.1,481.4 1248.6,482.9 1272.9,502.9"/>
<polyline points="880,511.4 885.7,521.4 892.9,515.7 902.9,492.3 911.4,494.3 928.6,499.1 954.3,502.9 980,500 994.3,515.7 1008.6,528.6 1022.9,531.4 1031.4,535.7 1045.7,550"/>
<polyline points="900,550 901.4,534.3 911.4,524.9 922.9,540 930,550"/>
<polyline points="931.4,550 938.6,535.7 947.1,535.7 958.6,550"/>
</g>
<clipPath id="lc3"><rect x="120" y="540" width="390" height="480"/></clipPath>
<g clip-path="url(#lc3)">
<polyline points="126.3,574.3 148.6,573.4 188.6,578 242.9,581.4 257.1,580.9 282.9,574.3 297.1,564.3 317.1,547.1 348.6,541.4 362.9,541.4 374.3,546.3 380,545.7 398.6,535.7 420,540.9 442.9,542 460,550.6 468.6,550 485.7,541.4 500,546.6 522.9,554.3 531.4,553.7"/>
<polyline points="126.3,637.1 148.6,636.3 177.1,642.9 205.7,647.7 228.6,651.4 240,647.7 257.1,632.9 268.6,625.7 291.4,598.6 308.6,577.1 320,571.4 337.1,581.4 348.6,581.4 365.7,579.1 380,583.4 398.6,570.9 420,575.7 445.7,577.1 462.9,584.3 480,578.6 491.4,578.6 500,582.9 522.9,591.4 531.4,592.3"/>
<polyline points="126.3,700.6 148.6,697.7 165.7,700.6 178.6,711.4 191.4,713.7 214.3,707.1 234.3,687.1 260,660 268.6,655.7 291.4,624.3 301.4,610 320,614.3 337.1,614.3 371.4,616.3 385.7,625.7 400,625.7 418.6,635.1 434.3,635.7 448.6,644.3 462.9,657.1 477.1,681.4 491.4,701.4 500,724.3 511.4,752.9 522.3,770.9 530.9,761.4"/>
<polyline points="126.3,751.4 148.6,747.1 177.1,743.7 195.7,742 214.3,724.3 240,702.9 257.1,694.3 268.6,690 275.7,695.7 282.9,702.9 290,721.4 297.1,758.6 302.9,815.7 305.7,872.9 306.3,930 305.7,952.9 303.7,975.7 298.6,987.1 290,998.6"/>
<polyline points="126.3,800 137.1,802 151.4,798.6 165.7,781.4 178.6,767.1 205.7,755.7 231.4,737.7 242.9,750 250,772.9 255.7,801.4 260,844.3 262.9,901.4 261.4,930 259.4,958.6 254.3,975.7 247.1,998.6"/>
<polyline points="126.3,834.3 148.6,834.3 162.9,827.1 171.4,815.7 178.6,794.3 191.4,784.3 205.7,780 212.9,780.9 221.4,798.6 227.1,815.7 230,844.3 232.9,887.1 232.9,930 232,958.6 230.9,998.6 225.7,1012.9"/>
<polyline points="126.3,855.7 148.6,852.3 162.9,848.6 178.6,842 187.1,842 197.1,852.9 202.9,877.1 205.7,901.4 205.7,930 206.6,958.6 204.9,987.1 200,1030"/>
<polyline points="126.3,875.7 137.1,870.6 154.3,869.4 171.4,871.4 178.6,892.9 181.4,930 183.4,958.6 183.4,1001.4 180.9,1030"/>
<polyline points="126.3,898.6 137.1,895.1 145.7,897.1 154.3,904.3 158.6,915.7 161.4,930 162.9,952.9 163.4,987.1 161.4,1030"/>
<polyline points="126.3,918.6 132.9,921.4 137.1,930 141.4,947.1 145.1,970 145.7,1001.4 143.7,1030"/>
<polyline points="126.3,952.9 128.6,958.6 129.4,987.1 127.7,1030"/>
<polyline points="380,930 382.9,918.6 390,898.6 395.7,915.7 398.6,930 399.4,951.4"/>
<polyline points="380,930 379.4,951.4"/>
<polyline points="500,930 508.6,918.6 520,911.4"/>
</g>
<clipPath id="lc4"><rect x="510" y="540" width="380" height="480"/></clipPath>
<g clip-path="url(#lc4)">
<polyline points="500,546.6 522.9,554.3 531.4,553.7 545.7,545.7 561.4,544.3 574.3,554.3 584.3,567.1 591.4,551.4 600,544.9 637.1,544.3 651.4,548.6 660,555.7 667.1,570 672.9,595.7 680,644.3 685.7,690 685.7,730 682.9,750 677.1,764.3 665.7,771.4"/>
<polyline points="500,582.9 522.9,591.4 531.4,592.3 545.7,584.3 558.6,581.4 574.3,591.4 584.3,603.7 591.4,591.4 600,584.3 620,580 637.1,598.6 645.7,618.6 651.4,644.3 656.6,687.1 658.6,730 656.6,758.6 654.9,764.9"/>
<polyline points="500,724.3 511.4,752.9 522.3,770.9 530.9,761.4 537.1,738.6 557.1,695.7 567.1,662 575.7,670 585.7,692.9 598.6,724.3 604.3,747.1 605.7,775.7 601.4,815.7 597.1,827.1"/>
<polyline points="505.7,918.6 514.3,911.4 521.4,910 528.6,918.6 534.3,930"/>
<polyline points="585.7,858 592.9,850"/>
<polyline points="690,530 705.7,547.1 717.1,575.7 727.1,604.3 732.9,644.3 735.7,690 734.9,730 731.4,752.9 720,779.4"/>
<polyline points="745.7,779.4 752.9,776.3 762.9,778.6"/>
<polyline points="772.9,530 778.6,572.9 785.7,610 791.4,652.9 796.6,678.6 798.6,644.3 801.4,587.1 804.3,544.3 805.7,530"/>
<polyline points="900,580 884.3,586.6 868.6,581.4 852.9,585.7 822.9,624.3 817.1,650 812.9,690 807.1,741.4 801.4,801.4 798.6,844.3 797.1,872.9"/>
<polyline points="831.4,532.9 837.1,533.4 842.9,530"/>
<polyline points="814.3,887.1 815.7,858.6 818.6,815.7 822.9,778.6 831.4,762.9 835.7,781.4 840,830 842.3,887.1 838.6,912.9 835.7,920"/>
<polyline points="798.6,872.9 802.9,844.3 807.1,815.7 811.4,758.6 817.1,724.3 821.4,701.4 831.4,682.9 841.4,680 845.7,695.7 848.6,730 850.9,787.1 852.9,844.3 853.7,887.1 851.4,920"/>
<polyline points="900,877.1 894.3,858.6 887.1,815.7 882.9,758.6 882.9,715.7 885.7,692.9 893.7,682.9 897.1,690 900,712.9"/>
<polyline points="871.4,920 875.7,898.6 881.4,920"/>
<polyline points="778.6,827.1 785.7,837.1 788.6,858"/>
</g>
<clipPath id="lc5"><rect x="890" y="540" width="390" height="480"/></clipPath>
<g clip-path="url(#lc5)">
<polyline points="880,584.3 885.7,585.7 892.9,581.4 898.6,552.9 902.9,530"/>
<polyline points="917.1,530 922.9,541.4 928.6,550 929.1,564.3 929.7,550 938.6,535.7 947.1,535.7 957.1,548.6 961.4,572.9 964.3,610 965.7,672.9 965.1,730 962.9,787.1 961.4,844.3 959.4,901.4 955.7,930"/>
<polyline points="884.3,694.3 892.9,682.9 897.1,701.4 899.4,758.6 898.6,815.7 895.7,858.6 892.9,884.3 888.6,858.6 883.4,815.7 882.3,758.6 882.9,715.7 884.3,694.3"/>
<polyline points="1014.3,530 1028.6,534.3 1045.7,550 1065.7,581.4 1077.1,610 1085.7,644.3 1092.9,687.1 1097.1,730 1101.4,787.1 1102.3,815.7 1100,850 1091.4,872.9 1070.9,879.1"/>
<polyline points="904.3,920 911.4,911.4 913.7,920"/>
<polyline points="1028.6,888.6 1034.3,884.3"/>
<polyline points="1085.7,888.6 1091.4,887.1 1098.6,888.6"/>
<polyline points="1234.3,888.6 1237.1,885.7"/>
</g>
</g>
<g clip-path="url(#plot)">
<polygon fill="#fff" stroke="#000" stroke-width="1" points="126.5,1020.5 126.5,998.5 214.5,998.5 214.5,982.5 232.5,982.5 232.5,966.5 347.5,966.5 347.5,951.5 408.5,951.5 408.5,966.5 479.5,966.5 479.5,951.5 532.5,951.5 532.5,936.5 541.5,936.5 541.5,920.5 550.5,920.5 550.5,889.5 558.5,889.5 558.5,858.5 567.5,858.5 567.5,842.5 585.5,842.5 585.5,858.5 594.5,858.5 594.5,827.5 602.5,827.5 602.5,796.5 620.5,796.5 620.5,780.5 638.5,780.5 638.5,765.5 664.5,765.5 664.5,780.5 770.5,780.5 770.5,796.5 779.5,796.5 779.5,827.5 788.5,827.5 788.5,858.5 797.5,858.5 797.5,874.5 805.5,874.5 805.5,889.5 814.5,889.5 814.5,904.5 832.5,904.5 832.5,920.5 955.5,920.5 955.5,936.5 982.5,936.5 982.5,920.5 999.5,920.5 999.5,904.5 1008.5,904.5 1008.5,889.5 1035.5,889.5 1035.5,874.5 1070.5,874.5 1070.5,889.5 1238.5,889.5 1238.5,874.5 1282.5,874.5 1282.5,1020.5"/>
</g>
<g font-family="Liberation Sans, sans-serif" font-size="7.6" font-weight="bold" text-anchor="middle" shape-rendering="auto">
<g transform="translate(345.7,180) rotate(0)"><rect x="-5.5" y="-3.5" width="11" height="7" fill="#fff"/><text x="0" y="2.7">48</text></g>
<g transform="translate(328.6,239.4) rotate(0)"><rect x="-5.5" y="-3.5" width="11" height="7" fill="#fff"/><text x="0" y="2.7">46</text></g>
<g transform="translate(425.7,309.1) rotate(0)"><rect x="-5.5" y="-3.5" width="11" height="7" fill="#fff"/><text x="0" y="2.7">44</text></g>
<g transform="translate(381.4,373.7) rotate(25)"><rect x="-5.5" y="-3.5" width="11" height="7" fill="#fff"/><text x="0" y="2.7">42</text></g>
<g transform="translate(470,440.9) rotate(0)"><rect x="-5.5" y="-3.5" width="11" height="7" fill="#fff"/><text x="0" y="2.7">40</text></g>
<g transform="translate(337.1,498) rotate(-30)"><rect x="-5.5" y="-3.5" width="11" height="7" fill="#fff"/><text x="0" y="2.7">38</text></g>
<g transform="translate(664.3,183.4) rotate(0)"><rect x="-5.5" y="-3.5" width="11" height="7" fill="#fff"/><text x="0" y="2.7">48</text></g>
<g transform="translate(708,252.3) rotate(15)"><rect x="-5.5" y="-3.5" width="11" height="7" fill="#fff"/><text x="0" y="2.7">46</text></g>
<g transform="translate(748.6,316.6) rotate(30)"><rect x="-5.5" y="-3.5" width="11" height="7" fill="#fff"/><text x="0" y="2.7">44</text></g>
<g transform="translate(717.1,375.7) rotate(-15)"><rect x="-5.5" y="-3.5" width="11" height="7" fill="#fff"/><text x="0" y="2.7">42</text></g>
<g transform="translate(681.4,458) rotate(20)"><rect x="-5.5" y="-3.5" width="11" height="7" fill="#fff"/><text x="0" y="2.7">40</text></g>
<g transform="translate(585.7,532.9) rotate(-70)"><rect x="-5.5" y="-3.5" width="11" height="7" fill="#fff"/><text x="0" y="2.7">38</text></g>
<g transform="translate(902.3,202.3) rotate(0)"><rect x="-5.5" y="-3.5" width="11" height="7" fill="#fff"/><text x="0" y="2.7">48</text></g>
<g transform="translate(976.6,239.1) rotate(-25)"><rect x="-5.5" y="-3.5" width="11" height="7" fill="#fff"/><text x="0" y="2.7">46</text></g>
<g transform="translate(1025.7,310.9) rotate(0)"><rect x="-5.5" y="-3.5" width="11" height="7" fill="#fff"/><text x="0" y="2.7">44</text></g>
<g transform="translate(955.7,414.3) rotate(0)"><rect x="-5.5" y="-3.5" width="11" height="7" fill="#fff"/><text x="0" y="2.7">42</text></g>
<g transform="translate(990,473.7) rotate(30)"><rect x="-5.5" y="-3.5" width="11" height="7" fill="#fff"/><text x="0" y="2.7">40</text></g>
<g transform="translate(434.3,575.7) rotate(0)"><rect x="-5.5" y="-3.5" width="11" height="7" fill="#fff"/><text x="0" y="2.7">36</text></g>
<g transform="translate(267.1,688) rotate(0)"><rect x="-5.5" y="-3.5" width="11" height="7" fill="#fff"/><text x="0" y="2.7">34</text></g>
<g transform="translate(815.7,657.1) rotate(-90)"><rect x="-5.5" y="-3.5" width="11" height="7" fill="#fff"/><text x="0" y="2.7">38</text></g>
<g transform="translate(965.1,641.4) rotate(-90)"><rect x="-5.5" y="-3.5" width="11" height="7" fill="#fff"/><text x="0" y="2.7">38</text></g>
</g>
<g stroke="#000" fill="none">
<line x1="126" y1="1014" x2="126" y2="985" stroke-width="2"/>
<line x1="126" y1="154" x2="126" y2="183" stroke-width="2"/>
<line x1="166.5" y1="1014" x2="166.5" y2="999" stroke-width="1"/>
<line x1="166.5" y1="154" x2="166.5" y2="169" stroke-width="1"/>
<line x1="207.5" y1="1014" x2="207.5" y2="999" stroke-width="1"/>
<line x1="207.5" y1="154" x2="207.5" y2="169" stroke-width="1"/>
<line x1="248.5" y1="1014" x2="248.5" y2="999" stroke-width="1"/>
<line x1="248.5" y1="154" x2="248.5" y2="169" stroke-width="1"/>
<line x1="289.5" y1="1014" x2="289.5" y2="999" stroke-width="1"/>
<line x1="289.5" y1="154" x2="289.5" y2="169" stroke-width="1"/>
<line x1="330" y1="1014" x2="330" y2="985" stroke-width="2"/>
<line x1="330" y1="154" x2="330" y2="183" stroke-width="2"/>
<line x1="370.5" y1="1014" x2="370.5" y2="999" stroke-width="1"/>
<line x1="370.5" y1="154" x2="370.5" y2="169" stroke-width="1"/>
<line x1="411.5" y1="1014" x2="411.5" y2="999" stroke-width="1"/>
<line x1="411.5" y1="154" x2="411.5" y2="169" stroke-width="1"/>
<line x1="452.5" y1="1014" x2="452.5" y2="999" stroke-width="1"/>
<line x1="452.5" y1="154" x2="452.5" y2="169" stroke-width="1"/>
<line x1="493.5" y1="1014" x2="493.5" y2="999" stroke-width="1"/>
<line x1="493.5" y1="154" x2="493.5" y2="169" stroke-width="1"/>
<line x1="534" y1="1014" x2="534" y2="985" stroke-width="2"/>
<line x1="534" y1="154" x2="534" y2="183" stroke-width="2"/>
<line x1="575.5" y1="1014" x2="575.5" y2="999" stroke-width="1"/>
<line x1="575.5" y1="154" x2="575.5" y2="169" stroke-width="1"/>
<line x1="616.5" y1="1014" x2="616.5" y2="999" stroke-width="1"/>
<line x1="616.5" y1="154" x2="616.5" y2="169" stroke-width="1"/>
<line x1="657.5" y1="1014" x2="657.5" y2="999" stroke-width="1"/>
<line x1="657.5" y1="154" x2="657.5" y2="169" stroke-width="1"/>
<line x1="697.5" y1="1014" x2="697.5" y2="999" stroke-width="1"/>
<line x1="697.5" y1="154" x2="697.5" y2="169" stroke-width="1"/>
<line x1="739" y1="1014" x2="739" y2="985" stroke-width="2"/>
<line x1="739" y1="154" x2="739" y2="183" stroke-width="2"/>
<line x1="779.5" y1="1014" x2="779.5" y2="999" stroke-width="1"/>
<line x1="779.5" y1="154" x2="779.5" y2="169" stroke-width="1"/>
<line x1="820.5" y1="1014" x2="820.5" y2="999" stroke-width="1"/>
<line x1="820.5" y1="154" x2="820.5" y2="169" stroke-width="1"/>
<line x1="861.5" y1="1014" x2="861.5" y2="999" stroke-width="1"/>
<line x1="861.5" y1="154" x2="861.5" y2="169" stroke-width="1"/>
<line x1="902.5" y1="1014" x2="902.5" y2="999" stroke-width="1"/>
<line x1="902.5" y1="154" x2="902.5" y2="169" stroke-width="1"/>
<line x1="943" y1="1014" x2="943" y2="985" stroke-width="2"/>
<line x1="943" y1="154" x2="943" y2="183" stroke-width="2"/>
<line x1="984.5" y1="1014" x2="984.5" y2="999" stroke-width="1"/>
<line x1="984.5" y1="154" x2="984.5" y2="169" stroke-width="1"/>
<line x1="1024.5" y1="1014" x2="1024.5" y2="999" stroke-width="1"/>
<line x1="1024.5" y1="154" x2="1024.5" y2="169" stroke-width="1"/>
<line x1="1065.5" y1="1014" x2="1065.5" y2="999" stroke-width="1"/>
<line x1="1065.5" y1="154" x2="1065.5" y2="169" stroke-width="1"/>
<line x1="1106.5" y1="1014" x2="1106.5" y2="999" stroke-width="1"/>
<line x1="1106.5" y1="154" x2="1106.5" y2="169" stroke-width="1"/>
<line x1="1148" y1="1014" x2="1148" y2="985" stroke-width="2"/>
<line x1="1148" y1="154" x2="1148" y2="183" stroke-width="2"/>
<line x1="1188.5" y1="1014" x2="1188.5" y2="999" stroke-width="1"/>
<line x1="1188.5" y1="154" x2="1188.5" y2="169" stroke-width="1"/>
<line x1="1229.5" y1="1014" x2="1229.5" y2="999" stroke-width="1"/>
<line x1="1229.5" y1="154" x2="1229.5" y2="169" stroke-width="1"/>
<line x1="1270.5" y1="1014" x2="1270.5" y2="999" stroke-width="1"/>
<line x1="1270.5" y1="154" x2="1270.5" y2="169" stroke-width="1"/>
<line x1="126" y1="1014" x2="165" y2="1014" stroke-width="2"/>
<line x1="1273" y1="1014" x2="1234" y2="1014" stroke-width="2"/>
<line x1="126" y1="966.5" x2="146" y2="966.5" stroke-width="1"/>
<line x1="1273" y1="966.5" x2="1253" y2="966.5" stroke-width="1"/>
<line x1="126" y1="918.5" x2="146" y2="918.5" stroke-width="1"/>
<line x1="1273" y1="918.5" x2="1253" y2="918.5" stroke-width="1"/>
<line x1="126" y1="871" x2="165" y2="871" stroke-width="2"/>
<line x1="1273" y1="871" x2="1234" y2="871" stroke-width="2"/>
<line x1="126" y1="822.5" x2="146" y2="822.5" stroke-width="1"/>
<line x1="1273" y1="822.5" x2="1253" y2="822.5" stroke-width="1"/>
<line x1="126" y1="775.5" x2="146" y2="775.5" stroke-width="1"/>
<line x1="1273" y1="775.5" x2="1253" y2="775.5" stroke-width="1"/>
<line x1="126" y1="727" x2="165" y2="727" stroke-width="2"/>
<line x1="1273" y1="727" x2="1234" y2="727" stroke-width="2"/>
<line x1="126" y1="679.5" x2="146" y2="679.5" stroke-width="1"/>
<line x1="1273" y1="679.5" x2="1253" y2="679.5" stroke-width="1"/>
<line x1="126" y1="631.5" x2="146" y2="631.5" stroke-width="1"/>
<line x1="1273" y1="631.5" x2="1253" y2="631.5" stroke-width="1"/>
<line x1="126" y1="584" x2="165" y2="584" stroke-width="2"/>
<line x1="1273" y1="584" x2="1234" y2="584" stroke-width="2"/>
<line x1="126" y1="536.5" x2="146" y2="536.5" stroke-width="1"/>
<line x1="1273" y1="536.5" x2="1253" y2="536.5" stroke-width="1"/>
<line x1="126" y1="488.5" x2="146" y2="488.5" stroke-width="1"/>
<line x1="1273" y1="488.5" x2="1253" y2="488.5" stroke-width="1"/>
<line x1="126" y1="441" x2="165" y2="441" stroke-width="2"/>
<line x1="1273" y1="441" x2="1234" y2="441" stroke-width="2"/>
<line x1="126" y1="392.5" x2="146" y2="392.5" stroke-width="1"/>
<line x1="1273" y1="392.5" x2="1253" y2="392.5" stroke-width="1"/>
<line x1="126" y1="345.5" x2="146" y2="345.5" stroke-width="1"/>
<line x1="1273" y1="345.5" x2="1253" y2="345.5" stroke-width="1"/>
<line x1="126" y1="297" x2="165" y2="297" stroke-width="2"/>
<line x1="1273" y1="297" x2="1234" y2="297" stroke-width="2"/>
<line x1="126" y1="249.5" x2="146" y2="249.5" stroke-width="1"/>
<line x1="1273" y1="249.5" x2="1253" y2="249.5" stroke-width="1"/>
<line x1="126" y1="201.5" x2="146" y2="201.5" stroke-width="1"/>
<line x1="1273" y1="201.5" x2="1253" y2="201.5" stroke-width="1"/>
<line x1="126" y1="154" x2="165" y2="154" stroke-width="2"/>
<line x1="1273" y1="154" x2="1234" y2="154" stroke-width="2"/>
<rect x="126" y="154" width="1147" height="860" stroke-width="2"/>
</g>
<rect x="186" y="1143.5" width="41.4" height="10.5" fill="#0000ff" stroke="#000" stroke-width="1"/>
<rect x="227.4" y="1143.5" width="41.4" height="10.5" fill="#003cff" stroke="#000" stroke-width="1"/>
<rect x="268.7" y="1143.5" width="41.4" height="10.5" fill="#007aff" stroke="#000" stroke-width="1"/>
<rect x="310.1" y="1143.5" width="41.4" height="10.5" fill="#00baff" stroke="#000" stroke-width="1"/>
<rect x="351.4" y="1143.5" width="41.4" height="10.5" fill="#00faff" stroke="#000" stroke-width="1"/>
<rect x="392.8" y="1143.5" width="41.4" height="10.5" fill="#00eac8" stroke="#000" stroke-width="1"/>
<rect x="434.2" y="1143.5" width="41.4" height="10.5" fill="#00da91" stroke="#000" stroke-width="1"/>
<rect x="475.5" y="1143.5" width="41.4" height="10.5" fill="#00c658" stroke="#000" stroke-width="1"/>
<rect x="516.9" y="1143.5" width="41.4" height="10.5" fill="#08b21e" stroke="#000" stroke-width="1"/>
<rect x="558.2" y="1143.5" width="41.4" height="10.5" fill="#36c00e" stroke="#000" stroke-width="1"/>
<rect x="599.6" y="1143.5" width="41.4" height="10.5" fill="#6ed30c" stroke="#000" stroke-width="1"/>
<rect x="641" y="1143.5" width="41.4" height="10.5" fill="#a5e20a" stroke="#000" stroke-width="1"/>
<rect x="682.3" y="1143.5" width="41.4" height="10.5" fill="#def20a" stroke="#000" stroke-width="1"/>
<rect x="723.7" y="1143.5" width="41.4" height="10.5" fill="#fff000" stroke="#000" stroke-width="1"/>
<rect x="765" y="1143.5" width="41.4" height="10.5" fill="#ffd700" stroke="#000" stroke-width="1"/>
<rect x="806.4" y="1143.5" width="41.4" height="10.5" fill="#ffbe00" stroke="#000" stroke-width="1"/>
<rect x="847.8" y="1143.5" width="41.4" height="10.5" fill="#ffa500" stroke="#000" stroke-width="1"/>
<rect x="889.1" y="1143.5" width="41.4" height="10.5" fill="#ff8c00" stroke="#000" stroke-width="1"/>
<rect x="930.5" y="1143.5" width="41.4" height="10.5" fill="#ff6c08" stroke="#000" stroke-width="1"/>
<rect x="971.8" y="1143.5" width="41.4" height="10.5" fill="#ff480c" stroke="#000" stroke-width="1"/>
<rect x="1013.2" y="1143.5" width="41.4" height="10.5" fill="#ff220c" stroke="#000" stroke-width="1"/>
<rect x="1054.6" y="1143.5" width="41.4" height="10.5" fill="#f0000e" stroke="#000" stroke-width="1"/>
<rect x="1095.9" y="1143.5" width="41.4" height="10.5" fill="#c8002d" stroke="#000" stroke-width="1"/>
<rect x="1137.3" y="1143.5" width="41.4" height="10.5" fill="#a00055" stroke="#000" stroke-width="1"/>
<rect x="1178.6" y="1143.5" width="41.4" height="10.5" fill="#780078" stroke="#000" stroke-width="1"/>
</svg>
<div class="t" style="left:176px;top:52.61px;font-size:34.72px;font-weight:bold;transform:translate(0,0);">Wind-Parallel Section at Max W: Vertical Velocity &amp; Pot.Temp.</div>
<div class="t" style="left:1193.5px;top:59.21px;font-size:22.2px;font-weight:bold;transform:translate(0,0);">(C)</div>
<div class="t" style="left:351px;top:83.86px;font-size:28.87px;font-weight:normal;transform:translate(0,0);">Valid 1400 LST</div>
<div class="t" style="left:554px;top:89.20px;font-size:21.5px;font-weight:normal;transform:translate(0,0);">(1200Z)</div>
<div class="t" style="left:641.6px;top:84.34px;font-size:28.3px;font-weight:normal;transform:translate(0,0);">TUE 15 Feb 2022</div>
<div class="t" style="left:871px;top:86.69px;font-size:21.87px;font-weight:normal;transform:translate(0,0);">[12hrFcst@0400z]</div>
<div class="t" style="left:539.3px;top:107.48px;font-size:19.04px;font-weight:normal;transform:translate(0,0);-webkit-text-stroke:0.45px #000;">boxWmax=406@-32.92,21.83,1999m</div>
<div class="t" style="left:114.5px;top:994.43px;font-size:39.3px;font-weight:normal;transform:translate(-100%,0);">0</div>
<div class="t" style="left:114.5px;top:851.09px;font-size:39.3px;font-weight:normal;transform:translate(-100%,0);">3</div>
<div class="t" style="left:114.5px;top:707.75px;font-size:39.3px;font-weight:normal;transform:translate(-100%,0);">6</div>
<div class="t" style="left:114.5px;top:564.41px;font-size:39.3px;font-weight:normal;transform:translate(-100%,0);">9</div>
<div class="t" style="left:114.5px;top:421.07px;font-size:39.3px;font-weight:normal;transform:translate(-100%,0);">12</div>
<div class="t" style="left:114.5px;top:277.73px;font-size:39.3px;font-weight:normal;transform:translate(-100%,0);">15</div>
<div class="t" style="left:114.5px;top:134.39px;font-size:39.3px;font-weight:normal;transform:translate(-100%,0);">18</div>
<div class="t" style="left:125.6px;top:1023.23px;font-size:39.3px;font-weight:normal;transform:translate(-50%,0);">0</div>
<div class="t" style="left:330px;top:1023.23px;font-size:39.3px;font-weight:normal;transform:translate(-50%,0);">50</div>
<div class="t" style="left:534.4px;top:1023.23px;font-size:39.3px;font-weight:normal;transform:translate(-50%,0);">100</div>
<div class="t" style="left:738.8px;top:1023.23px;font-size:39.3px;font-weight:normal;transform:translate(-50%,0);">150</div>
<div class="t" style="left:943.2px;top:1023.23px;font-size:39.3px;font-weight:normal;transform:translate(-50%,0);">200</div>
<div class="t" style="left:1147.6px;top:1023.23px;font-size:39.3px;font-weight:normal;transform:translate(-50%,0);">250</div>
<div class="t" style="left:700px;top:1075.99px;font-size:39px;font-weight:normal;transform:translate(-50%,0);">Distance [nm]</div>
<div class="t" style="left:16.6px;top:710px;font-size:34.6px;transform-origin:0 0;transform:rotate(-90deg);">Height [Kft MSL]</div>
<div class="t" style="left:186px;top:1157.20px;font-size:29.3px;font-weight:normal;transform:translate(-50%,0);">-200</div>
<div class="t" style="left:351.4px;top:1157.20px;font-size:29.3px;font-weight:normal;transform:translate(-50%,0);">-120</div>
<div class="t" style="left:516.9px;top:1157.20px;font-size:29.3px;font-weight:normal;transform:translate(-50%,0);">-40</div>
<div class="t" style="left:682.3px;top:1157.20px;font-size:29.3px;font-weight:normal;transform:translate(-50%,0);">40</div>
<div class="t" style="left:847.8px;top:1157.20px;font-size:29.3px;font-weight:normal;transform:translate(-50%,0);">120</div>
<div class="t" style="left:1013.2px;top:1157.20px;font-size:29.3px;font-weight:normal;transform:translate(-50%,0);">200</div>
<div class="t" style="left:1178.6px;top:1157.20px;font-size:29.3px;font-weight:normal;transform:translate(-50%,0);">280</div>
<div class="t" style="left:700.3px;top:1207.50px;font-size:29.3px;font-weight:normal;transform:translate(-50%,0);">Vertical Velocity [cm/s]</div>
</body></html>
